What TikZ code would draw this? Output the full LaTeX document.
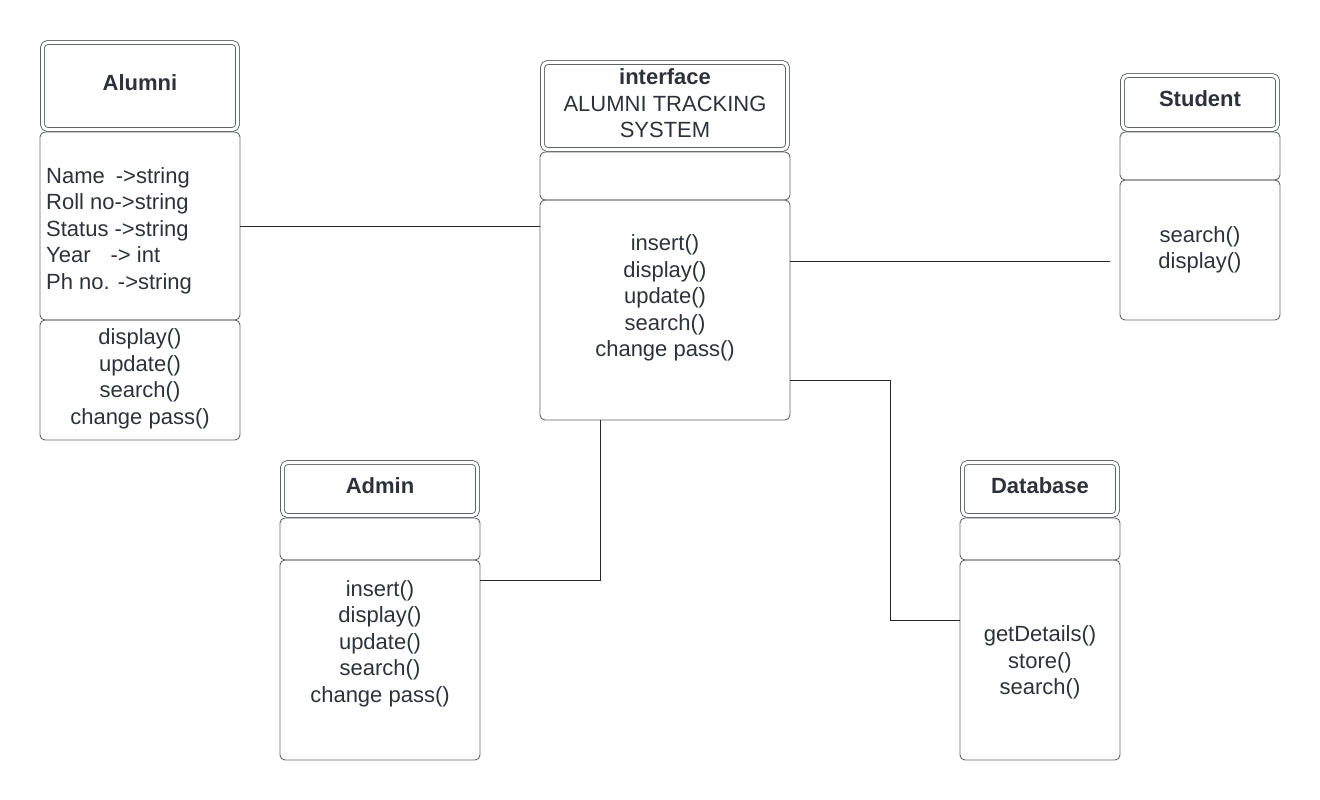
\documentclass[tikz,border=0pt]{standalone}
\usepackage{fontspec}
\setmainfont{Liberation Sans}
\definecolor{boxc}{RGB}{95,99,104}
\definecolor{txtc}{RGB}{45,50,58}
\definecolor{linkc}{RGB}{40,40,40}

\begin{document}
\begin{tikzpicture}[x=1pt,y=-1pt,
  hd/.style={draw=boxc,line width=0.9pt,double,double distance=3pt,rounded corners=5pt,inner sep=0pt,
    font=\fontsize{22}{26.5}\selectfont\bfseries,text=txtc,align=center,text depth=7pt},
  sec/.style={draw=boxc,line width=0.9pt,rounded corners=5pt,inner sep=0pt},
  txt/.style={inner sep=0pt,font=\fontsize{22}{26.5}\selectfont,text=txtc,align=center},
  link/.style={draw=linkc,line width=1pt}]
\useasboundingbox (0,0) rectangle (1320,800);
% Alumni
\node[hd,minimum width=195,minimum height=87] (ahd) at (140,86) {Alumni};
\node[sec,minimum width=200,minimum height=188] (aatt) at (140,226) {};
\node[sec,minimum width=200,minimum height=120] (amth) at (140,380) {};
\node[txt,align=left,anchor=west] (aatttxt) at (46,230.5) {Name\hspace{11pt}->string\\Roll no->string\\Status ->string\\Year\hspace{20pt}-> int\\Ph no. ->string};
\node[txt] (amthtxt) at (140,379) {display()\\update()\\search()\\change pass()};
% interface
\node[hd,minimum width=245,minimum height=87] (ihd) at (665,106) {};
\node[txt] (ihdtxt) at (665,103.5) {\textbf{interface}\\ALUMNI TRACKING\\SYSTEM};
\node[sec,minimum width=250,minimum height=48] (iatt) at (665,176) {};
\node[sec,minimum width=250,minimum height=220] (imth) at (665,310) {};
\node[txt] (imthtxt) at (665,298) {insert()\\display()\\update()\\search()\\change pass()};
% Student
\node[hd,minimum width=155,minimum height=54] (shd) at (1200,102.5) {Student};
\node[sec,minimum width=160,minimum height=48] (satt) at (1200,156) {};
\node[sec,minimum width=160,minimum height=140] (smth) at (1200,250) {};
\node[txt] (smthtxt) at (1200,250) {search()\\display()};
% Admin
\node[hd,minimum width=195,minimum height=53] (dhd) at (380,489) {Admin};
\node[sec,minimum width=200,minimum height=42] (datt) at (380,539) {};
\node[sec,minimum width=200,minimum height=200] (dmth) at (380,660) {};
\node[txt] (dmthtxt) at (380,643.5) {insert()\\display()\\update()\\search()\\change pass()};
% Database
\node[hd,minimum width=155,minimum height=53] (bhd) at (1040,489) {Database};
\node[sec,minimum width=160,minimum height=42] (batt) at (1040,539) {};
\node[sec,minimum width=160,minimum height=200] (bmth) at (1040,660) {};
\node[txt] (bmthtxt) at (1040,662.5) {getDetails()\\store()\\search()};
% links
\coordinate (sl) at (1110,261);
\coordinate (dj) at (600,580);
\coordinate (bj1) at (890,380);
\coordinate (bj2) at (890,620);
\draw[link] (aatt.east) -- (aatt.east -| imth.west);
\draw[link] (sl -| imth.east) -- (sl);
\draw[link] (dj |- imth.south) -- (dj) -- (dj -| dmth.east);
\draw[link] (bj1 -| imth.east) -- (bj1) -- (bj2) -- (bj2 -| bmth.west);
\end{tikzpicture}
\end{document}
